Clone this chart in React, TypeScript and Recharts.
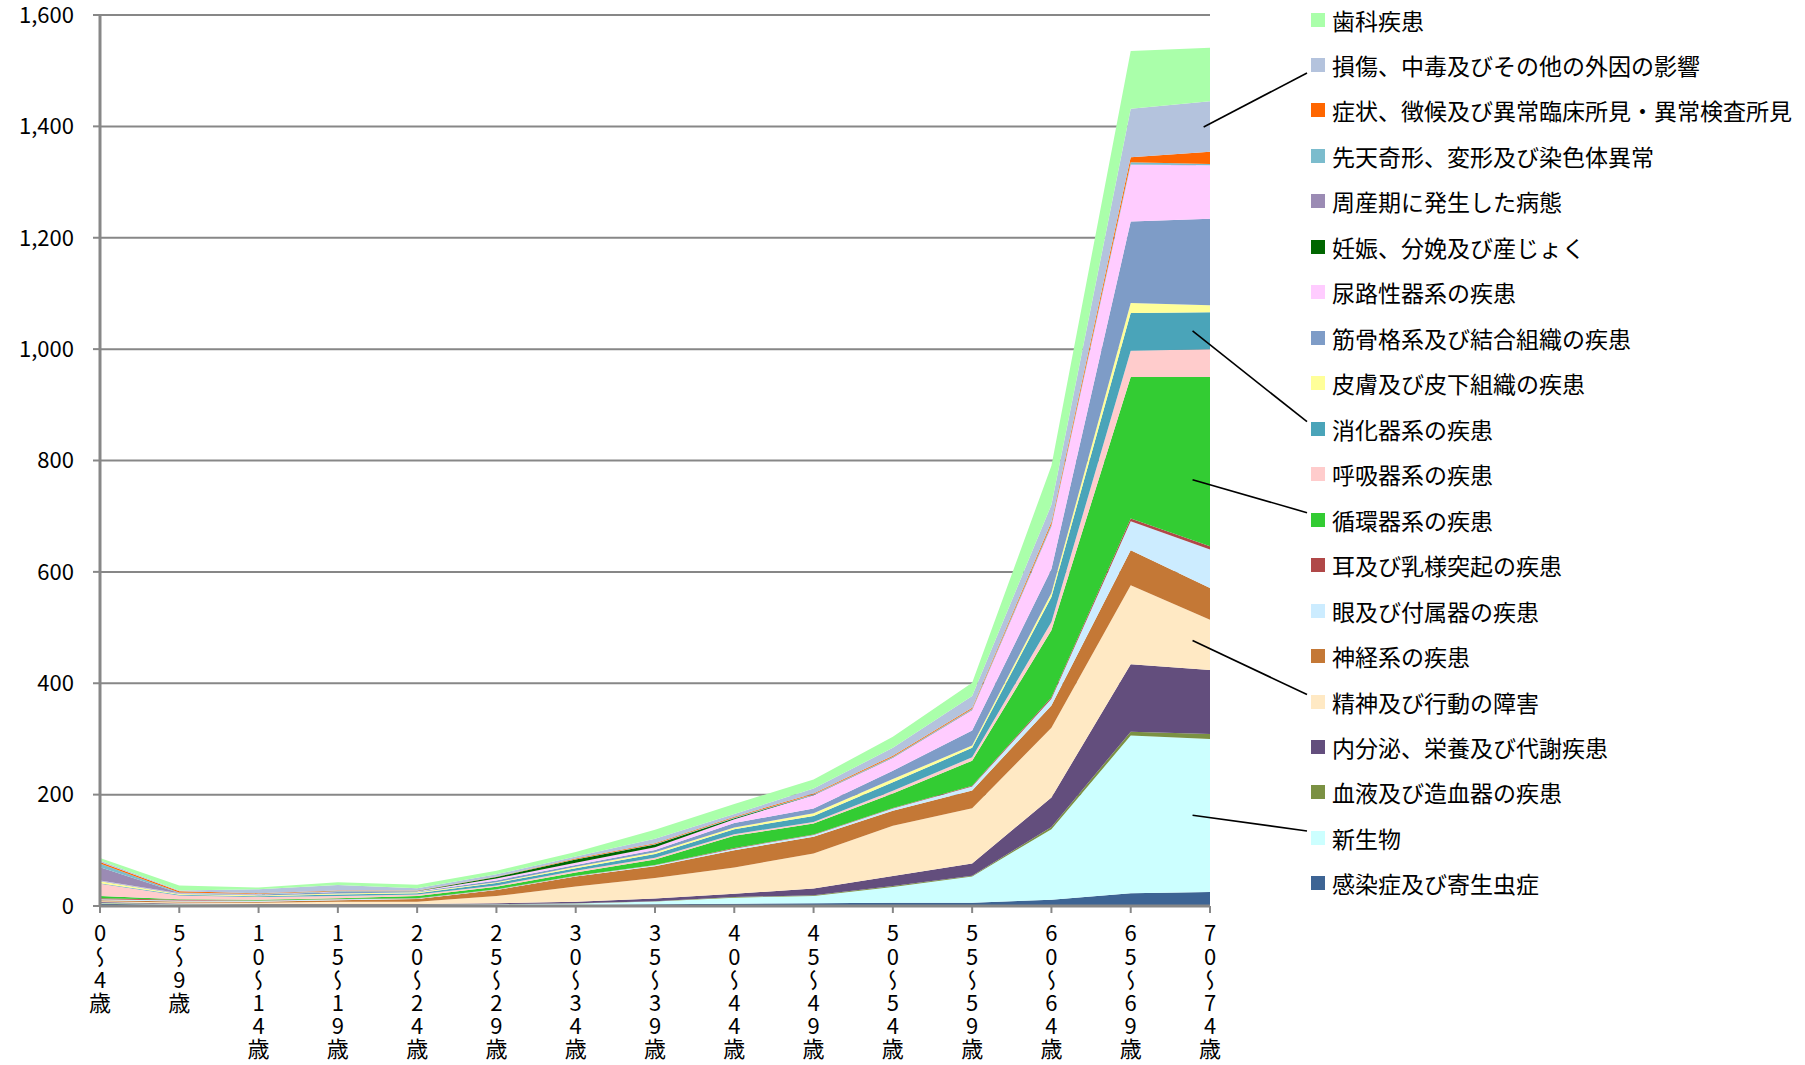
import React from 'react';
import { AreaChart, Area, XAxis, YAxis, CartesianGrid } from 'recharts';

const ages = ['0〜4歳', '5〜9歳', '10〜14歳', '15〜19歳', '20〜24歳', '25〜29歳', '30〜34歳', '35〜39歳', '40〜44歳', '45〜49歳', '50〜54歳', '55〜59歳', '60〜64歳', '65〜69歳', '70〜74歳'];

// stacked bottom -> top
const infection = [4, 2, 1, 1, 1, 1.5, 2, 3, 4, 5, 6, 6, 11, 23, 25];
const neoplasm = [1, 1, 1, 1, 1, 1.5, 2.5, 5, 11, 13, 28, 47, 127, 283, 275];
const blood = [1, 0.5, 0.5, 0.5, 0.5, 0.3, 0.3, 0.5, 1, 1.5, 2, 1.5, 4, 7, 9];
const endocrine = [1, 1, 1, 1, 1, 1.5, 3, 5, 6, 12, 18, 22, 53, 121, 115];
const mental = [1.5, 2, 2.5, 4, 4, 13, 27, 37, 47, 63, 90, 99, 125, 142, 90];
const nervous = [2, 1.5, 1.5, 3, 5, 11, 18, 21, 31, 30, 27, 32, 40, 63, 57];
const eye = [1.5, 2, 2, 1.5, 1, 0.7, 1, 1.5, 3, 3, 4, 7, 12, 52, 69];
const ear = [2, 1, 0.5, 0.5, 0.5, 0.5, 0.5, 0.5, 1, 1, 1, 1.5, 3, 5, 6];
const circulatory = [4, 1, 1, 1.5, 4, 4.5, 6, 10, 22, 19.5, 26, 45, 120, 254, 304];
const respiratory = [22, 7, 5, 4, 2.5, 2.5, 3, 3, 3, 3, 5, 6, 15, 47, 50];
const digestive = [1, 1, 1.5, 2.5, 2.5, 4.5, 4.5, 7, 9, 10.5, 15, 17, 45, 68, 66];
const skin = [3.5, 1.5, 1.5, 2, 1.5, 1.2, 2.5, 3, 3, 5, 6, 4, 7, 18, 13];
const musculo = [0.8, 1, 1.5, 2.5, 1, 3.3, 3.5, 4, 8, 8.5, 15, 27, 43, 146, 155];
const urinary = [0.7, 0.5, 0.5, 1, 1, 3.5, 4, 5, 7, 24, 23, 37, 77, 102, 96];
const pregnancy = [0, 0, 0.1, 0.3, 0.5, 2.5, 5.5, 5, 1.5, 0.5, 0.5, 0.5, 0.3, 0.2, 0.1];
const perinatal = [23.5, 0.3, 0.2, 0.2, 0.2, 0.2, 0.2, 0.2, 0.2, 0.2, 0.2, 0.2, 0.2, 0.3, 0.2];
const congenital = [7, 1, 0.5, 0.5, 0.3, 0.3, 0.4, 0.6, 1, 1, 1.3, 1.3, 3, 4, 2];
const symptoms = [2.5, 2, 1.2, 1, 0.5, 0.5, 1.2, 1.5, 1.5, 1.5, 2, 2, 4, 9, 22];
const injury = [2.5, 1.5, 7, 9.5, 4, 4, 4, 8, 5, 9, 14, 21, 31, 87, 91];
const dental = [4.5, 9, 3, 5, 6, 6.5, 8, 16, 18, 16, 20, 24, 70, 104, 96];

const series = [
  { key: 'infection', name: '感染症及び寄生虫症', color: '#3D6494', values: infection },
  { key: 'neoplasm', name: '新生物', color: '#CCFFFF', values: neoplasm },
  { key: 'blood', name: '血液及び造血器の疾患', color: '#7B9143', values: blood },
  { key: 'endocrine', name: '内分泌、栄養及び代謝疾患', color: '#634E7D', values: endocrine },
  { key: 'mental', name: '精神及び行動の障害', color: '#FFE9C4', values: mental },
  { key: 'nervous', name: '神経系の疾患', color: '#C47836', values: nervous },
  { key: 'eye', name: '眼及び付属器の疾患', color: '#CCECFF', values: eye },
  { key: 'ear', name: '耳及び乳様突起の疾患', color: '#B04848', values: ear },
  { key: 'circulatory', name: '循環器系の疾患', color: '#33CC33', values: circulatory },
  { key: 'respiratory', name: '呼吸器系の疾患', color: '#FFCCCC', values: respiratory },
  { key: 'digestive', name: '消化器系の疾患', color: '#4AA4B9', values: digestive },
  { key: 'skin', name: '皮膚及び皮下組織の疾患', color: '#FFFF99', values: skin },
  { key: 'musculo', name: '筋骨格系及び結合組織の疾患', color: '#7E9CC7', values: musculo },
  { key: 'urinary', name: '尿路性器系の疾患', color: '#FFCCFF', values: urinary },
  { key: 'pregnancy', name: '妊娠、分娩及び産じょく', color: '#006600', values: pregnancy },
  { key: 'perinatal', name: '周産期に発生した病態', color: '#9B8BB4', values: perinatal },
  { key: 'congenital', name: '先天奇形、変形及び染色体異常', color: '#7BBCCD', values: congenital },
  { key: 'symptoms', name: '症状、徴候及び異常臨床所見・異常検査所見', color: '#FF6600', values: symptoms },
  { key: 'injury', name: '損傷、中毒及びその他の外因の影響', color: '#B4C3DD', values: injury },
  { key: 'dental', name: '歯科疾患', color: '#AAFFAA', values: dental },
];

const yTicks = [0, 200, 400, 600, 800, 1000, 1200, 1400, 1600];

// leader lines: series key, position between last two ages, fraction within band
const callouts = [
  { key: 'injury', t: 0.92, frac: 0.5, dy: 8 },
  { key: 'digestive', t: 0.78, frac: 0.5, dy: -7 },
  { key: 'circulatory', t: 0.78, frac: 0.37, dy: -7 },
  { key: 'mental', t: 0.78, frac: 0.5, dy: -7 },
  { key: 'neoplasm', t: 0.78, frac: 0.5, dy: -7 },
];

const data = ages.map((age, i) => {
  const row: Record<string, string | number> = { age };
  series.forEach((s) => (row[s.key] = s.values[i]));
  return row;
});

const W = 1805;
const H = 1065;
const PLOT_LEFT = 100;
const PLOT_RIGHT = 1210;
const PLOT_TOP = 15;
const PLOT_BOTTOM = 906;
const Y_MAX = 1600;
const FONT = '"Noto Sans CJK JP", "Noto Sans", sans-serif';
const GRID = '#878787';

const LEGEND_X = 1311;
const LEGEND_Y0 = 19.5;
const LEGEND_STEP = 45.47;

const xAt = (i: number) => PLOT_LEFT + (i * (PLOT_RIGHT - PLOT_LEFT)) / (ages.length - 1);
const yAt = (v: number) => PLOT_BOTTOM - (v / Y_MAX) * (PLOT_BOTTOM - PLOT_TOP);

const cumAt = (idx: number, i: number) => {
  let s = 0;
  for (let k = 0; k <= idx; k++) s += series[k].values[i];
  return s;
};

// vertical (tategaki) age label
const AgeTick = (props: any) => {
  const { x, payload } = props;
  return (
    <text
      x={x}
      y={PLOT_BOTTOM + 16}
      fontSize={22}
      fill="#000"
      style={{ writingMode: 'vertical-rl', textOrientation: 'upright', letterSpacing: 1.2 } as any}
    >
      {payload.value}
    </text>
  );
};

export default function App() {
  const legendItems = [...series].reverse();
  const n = ages.length;

  return (
    <div style={{ position: 'absolute', left: 0, top: 0, width: W, height: H, background: '#fff', fontFamily: FONT }}>
      <AreaChart width={W} height={H} data={data} margin={{ top: PLOT_TOP, right: W - PLOT_RIGHT, left: 0, bottom: 0 }}>
        <CartesianGrid vertical={false} stroke={GRID} strokeWidth={2} horizontalValues={yTicks} />
        <XAxis
          dataKey="age"
          height={H - PLOT_BOTTOM}
          interval={0}
          tick={<AgeTick />}
          tickSize={7}
          tickMargin={0}
          axisLine={{ stroke: GRID, strokeWidth: 3 }}
          tickLine={{ stroke: GRID, strokeWidth: 2 }}
        />
        <YAxis
          width={PLOT_LEFT}
          domain={[0, Y_MAX]}
          ticks={yTicks}
          interval={0}
          tickFormatter={(v: number) => v.toLocaleString('en-US')}
          tick={{ fontSize: 22, fill: '#000' }}
          tickSize={7}
          tickMargin={19}
          axisLine={{ stroke: GRID, strokeWidth: 3 }}
          tickLine={{ stroke: GRID, strokeWidth: 2 }}
        />
        {series.map((s) => (
          <Area
            key={s.key}
            type="linear"
            dataKey={s.key}
            name={s.name}
            stackId="1"
            stroke="none"
            fill={s.color}
            fillOpacity={1}
            isAnimationActive={false}
            activeDot={false}
          />
        ))}
      </AreaChart>

      <svg width={W} height={H} style={{ position: 'absolute', left: 0, top: 0, pointerEvents: 'none' }}>
        {callouts.map((c) => {
          const idx = series.findIndex((s) => s.key === c.key);
          const lo = (i: number) => (idx === 0 ? 0 : cumAt(idx - 1, i));
          const hi = (i: number) => cumAt(idx, i);
          const low = lo(n - 2) * (1 - c.t) + lo(n - 1) * c.t;
          const high = hi(n - 2) * (1 - c.t) + hi(n - 1) * c.t;
          const v = low + (high - low) * c.frac;
          const x1 = xAt(n - 2) + (xAt(n - 1) - xAt(n - 2)) * c.t;
          const y1 = yAt(v);
          const li = legendItems.findIndex((s) => s.key === c.key);
          const x2 = LEGEND_X - 4;
          const y2 = LEGEND_Y0 + li * LEGEND_STEP + c.dy;
          return <line key={c.key} x1={x1} y1={y1} x2={x2} y2={y2} stroke="#000" strokeWidth={1.6} />;
        })}
      </svg>

      {legendItems.map((s, i) => (
        <div
          key={s.key}
          style={{
            position: 'absolute',
            left: LEGEND_X,
            top: LEGEND_Y0 + i * LEGEND_STEP - 16,
            height: 32,
            display: 'flex',
            alignItems: 'center',
            whiteSpace: 'nowrap',
          }}
        >
          <span style={{ display: 'inline-block', width: 14, height: 14, background: s.color, marginRight: 7 }} />
          <span style={{ fontSize: 23, color: '#000', lineHeight: '32px' }}>{s.name}</span>
        </div>
      ))}
    </div>
  );
}
